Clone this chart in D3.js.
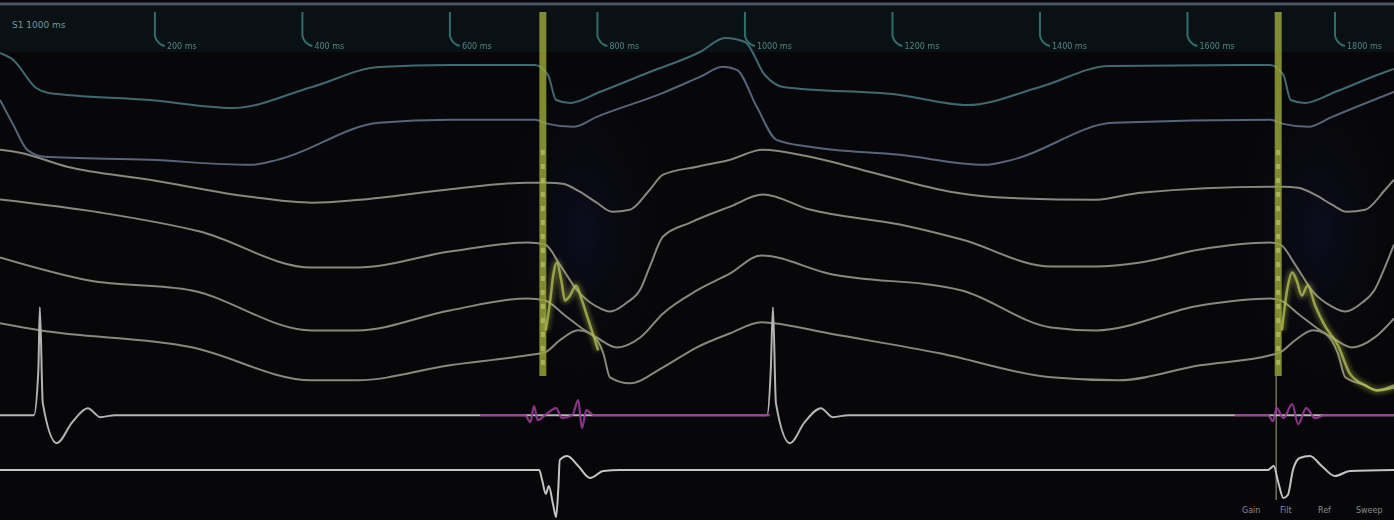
<!DOCTYPE html>
<html>
<head>
<meta charset="utf-8">
<script src="https://cdn.jsdelivr.net/npm/d3@7"></script>
<style>
  html, body { margin: 0; padding: 0; background: #07070a; }
  svg { display: block; }
</style>
</head>
<body>
<svg id="chart" width="1394" height="520"></svg>
<script>
// Recording channels, top to bottom (intracardiac bipoles, then surface leads)
const channels = ["HRA", "HIS d", "HIS p", "CS 9-10", "CS 5-6", "CS 1-2", "II", "V1"];

// Pacing stimulus times (ms)
const stimTimes = [726, 1723];

// Time markers along the top strip (ms)
const markerTimes = [0, 200, 400, 600, 800, 1000, 1200, 1400, 1600, 1800];
const headerText = "S1  1000 ms";
const footerLabels = ["Gain", "Filt", "Ref", "Sweep"];

// Each trace: [time ms, amplitude mV]
const traceA = [[-10,0.24],[8,0.10],[39,-0.46],[56,-0.56],[193,-0.70],[305,-0.86],[413,-0.44],[504,-0.04],[600,0],[715,0],[733,-0.20],[744,-0.70],[763,-0.76],[803,-0.54],[871,-0.14],[939,0.26],[973,0.54],[1000,0.46],[1027,-0.20],[1052,-0.44],[1210,-0.60],[1301,-0.80],[1400,-0.44],[1494,-0.02],[1712,0],[1730,-0.20],[1740,-0.70],[1759,-0.76],[1800,-0.54],[1868,-0.14],[1880,-0.08]];

const traceB = [[-10,0.46],[8,-0.04],[27,-0.54],[51,-0.68],[193,-0.74],[329,-0.84],[366,-0.74],[504,0],[600,0.06],[715,0.06],[733,-0.02],[767,-0.08],[799,0.12],[889,0.60],[939,0.92],[970,1.12],[989,1.06],[1016,0.32],[1043,-0.34],[1088,-0.48],[1210,-0.64],[1325,-0.84],[1362,-0.74],[1500,0],[1712,0.06],[1730,-0.02],[1764,-0.08],[1796,0.12],[1880,0.62]];

const traceC = [[-10,0.62],[17,0.56],[81,0.28],[193,0.02],[329,-0.32],[413,-0.44],[478,-0.38],[595,-0.18],[705,-0.04],[733,-0.04],[753,-0.06],[776,-0.22],[799,-0.44],[820,-0.62],[844,-0.58],[871,-0.18],[889,0.12],[935,0.28],[980,0.42],[1024,0.62],[1088,0.48],[1174,0.16],[1278,-0.22],[1354,-0.34],[1476,-0.38],[1536,-0.24],[1712,-0.12],[1730,-0.12],[1750,-0.14],[1773,-0.28],[1796,-0.48],[1816,-0.62],[1841,-0.58],[1868,-0.18],[1880,0.02]];

const traceD = [[-10,0.78],[126,0.52],[261,0.14],[413,-0.58],[474,-0.58],[600,-0.26],[705,-0.08],[729,-0.12],[749,-0.52],[774,-1.06],[799,-1.36],[817,-1.46],[840,-1.28],[858,-1.02],[871,-0.56],[889,0.04],[926,0.32],[980,0.64],[1024,0.88],[1088,0.58],[1210,0.28],[1294,-0.02],[1415,-0.56],[1476,-0.56],[1536,-0.48],[1617,-0.22],[1712,-0.08],[1726,-0.12],[1746,-0.52],[1770,-1.06],[1796,-1.36],[1814,-1.46],[1837,-1.28],[1854,-1.02],[1868,-0.56],[1880,-0.12]];

const traceE = [[-10,0.78],[111,0.32],[250,0.12],[413,-0.68],[474,-0.68],[600,-0.28],[705,-0.04],[729,-0.08],[756,-0.38],[783,-0.68],[799,-0.82],[826,-1.02],[858,-0.82],[889,-0.34],[935,0.12],[980,0.46],[1022,0.82],[1113,0.46],[1294,0.12],[1415,-0.62],[1476,-0.68],[1617,-0.18],[1712,-0.04],[1726,-0.08],[1753,-0.38],[1780,-0.68],[1796,-0.82],[1823,-1.02],[1854,-0.82],[1880,-0.44]];

const traceF = [[-10,0.62],[44,0.48],[250,0.14],[413,-0.52],[474,-0.52],[600,-0.22],[705,-0.02],[729,0.04],[749,0.28],[774,0.48],[790,0.42],[808,0.02],[817,-0.46],[844,-0.58],[889,-0.26],[935,0.14],[980,0.42],[1022,0.64],[1039,0.62],[1113,0.42],[1264,0.02],[1415,-0.46],[1506,-0.52],[1617,-0.22],[1712,-0.02],[1726,0.04],[1746,0.28],[1770,0.48],[1786,0.42],[1804,0.02],[1814,-0.46],[1841,-0.62],[1857,-0.72],[1880,-0.62]];

// Surface lead II with two conducted beats
const traceG = [[-10,-0.06],[36,-0.06],[42,0.84],[44,2.10],[48,0.18],[67,-0.62],[88,-0.20],[109,0.08],[126,-0.10],[146,-0.06],[1030,-0.06],[1035,0.84],[1038,2.10],[1042,0.18],[1061,-0.62],[1081,-0.20],[1103,0.08],[1119,-0.10],[1140,-0.06],[1880,-0.06]];

// Stimulus channel drawn over lead II around each pacing train
const stimSegments = [
  [[641,-0.06],[702,-0.06],[709,-0.20],[714,0.12],[719,-0.16],[729,-0.06],[744,0.08],[752,-0.12],[766,-0.06],[774,0.24],[779,-0.32],[785,0.04],[795,-0.06],[1034,-0.06]],
  [[1664,-0.06],[1709,-0.06],[1716,-0.18],[1721,0.08],[1730,-0.12],[1742,0.16],[1750,-0.24],[1761,0.08],[1773,-0.12],[1786,-0.06],[1880,-0.06]]
];

// Lead V1
const traceH = [[-10,0],[709,0],[721,0],[725,-0.20],[730,-0.48],[734,-0.32],[740,-0.70],[744,-0.94],[747,-0.36],[749,0.20],[759,0.28],[774,0.08],[790,-0.16],[808,-0.02],[831,0],[1709,0],[1717,0.08],[1723,-0.24],[1730,-0.56],[1736,-0.50],[1743,0],[1752,0.24],[1766,0.28],[1782,0.08],[1800,-0.12],[1820,-0.02],[1880,0]];

// Ablation catheter signal shown on the CS 5-6 row after each stimulus
const ablSegments = [
  [[730,-0.68],[736,-0.08],[740,0.42],[745,0.68],[751,0.32],[756,-0.08],[763,0.02],[771,0.22],[779,-0.08],[787,-0.44],[795,-0.80],[801,-1.08]],
  [[1728,-0.68],[1735,0.12],[1742,0.48],[1748,0.32],[1755,0.02],[1763,0.22],[1773,-0.18],[1786,-0.58],[1804,-0.98],[1820,-1.54],[1841,-1.78],[1857,-1.88],[1880,-1.82]]
];

const W = 1394, H = 520;
const svg = d3.select("#chart");

const x = d3.scaleLinear().domain([-10, 1880]).range([0, W]);
const rowY = d3.scalePoint().domain(channels).range([65, 470]);
const gain = d3.scaleLinear().domain([-1, 1]).range([50, -50]);

const lineFor = ch => d3.line()
  .x(d => x(d[0]))
  .y(d => rowY(ch) + gain(d[1]))
  .curve(d3.curveMonotoneX);

// background
svg.append("rect").attr("width", W).attr("height", H).attr("fill", "#07070a");

// faint navy haze behind each stimulus train
const defs = svg.append("defs");
const haze = defs.append("radialGradient").attr("id", "haze");
haze.append("stop").attr("offset", "0%").attr("stop-color", "#10102c").attr("stop-opacity", 0.6);
haze.append("stop").attr("offset", "100%").attr("stop-color", "#07070a").attr("stop-opacity", 0);
svg.selectAll("ellipse.haze").data(stimTimes).join("ellipse")
  .attr("class", "haze")
  .attr("cx", d => x(d) + 40).attr("cy", 230)
  .attr("rx", 90).attr("ry", 170)
  .attr("fill", "url(#haze)");

const glow = defs.append("filter").attr("id", "glow")
  .attr("x", "-50%").attr("y", "-50%").attr("width", "200%").attr("height", "200%");
glow.append("feGaussianBlur").attr("stdDeviation", 2);

// top strip
svg.append("rect").attr("x", 0).attr("y", 6).attr("width", W).attr("height", 46)
  .attr("fill", "#091114");
svg.append("line").attr("x1", 0).attr("x2", W).attr("y1", 4).attr("y2", 4)
  .attr("stroke", "#4c5566").attr("stroke-width", 3);

svg.append("text").attr("x", 12).attr("y", 28)
  .attr("font-family", "DejaVu Sans, sans-serif").attr("font-size", 9)
  .attr("fill", "#6f9aa0").text(headerText);

const marks = svg.append("g").selectAll("g").data(markerTimes.filter(t => t > 0)).join("g")
  .attr("transform", d => `translate(${x(d)},0)`);
marks.append("path")
  .attr("d", "M0,12 L0,36 Q2,44 10,46")
  .attr("fill", "none").attr("stroke", "#3f8c88").attr("stroke-width", 2).attr("opacity", 0.75);
marks.append("text").attr("x", 12).attr("y", 49)
  .attr("font-family", "DejaVu Sans, sans-serif").attr("font-size", 8)
  .attr("fill", "#5c9a96").attr("opacity", 0.85).text(d => d + " ms");

// intracardiac traces
const traces = [
  {ch: "HRA", data: traceA, color: "#3f6a74"},
  {ch: "HIS d", data: traceB, color: "#56647c"},
  {ch: "HIS p", data: traceC, color: "#8a887a"},
  {ch: "CS 9-10", data: traceD, color: "#8a887a"},
  {ch: "CS 5-6", data: traceE, color: "#8a887a"},
  {ch: "CS 1-2", data: traceF, color: "#8a887a"}
];
svg.append("g").selectAll("path").data(traces).join("path")
  .attr("d", d => lineFor(d.ch)(d.data))
  .attr("fill", "none").attr("stroke", d => d.color)
  .attr("stroke-width", 2).attr("stroke-linejoin", "round");

// pacing stimulus artefacts
const stimG = svg.append("g");
stimG.selectAll("line.band").data(stimTimes).join("line")
  .attr("class", "band")
  .attr("x1", d => x(d)).attr("x2", d => x(d))
  .attr("y1", 12).attr("y2", 376)
  .attr("stroke", "#96a03a").attr("stroke-width", 7).attr("opacity", 0.85);
stimG.selectAll("line.core").data(stimTimes).join("line")
  .attr("class", "core")
  .attr("x1", d => x(d)).attr("x2", d => x(d))
  .attr("y1", 150).attr("y2", 372)
  .attr("stroke", "#d4dc78").attr("stroke-width", 4)
  .attr("stroke-dasharray", "5 9").attr("opacity", 0.5);
stimG.append("line")
  .attr("x1", x(stimTimes[1]) - 2).attr("x2", x(stimTimes[1]) - 2)
  .attr("y1", 376).attr("y2", 500)
  .attr("stroke", "#b8b890").attr("stroke-width", 1.5).attr("opacity", 0.6);

// ablation catheter bursts
const abl = svg.append("g");
abl.selectAll("path.glow").data(ablSegments).join("path")
  .attr("class", "glow")
  .attr("d", d => lineFor("CS 5-6")(d))
  .attr("fill", "none").attr("stroke", "#b7c04c")
  .attr("stroke-width", 7).attr("opacity", 0.35).attr("filter", "url(#glow)");
abl.selectAll("path.trace").data(ablSegments).join("path")
  .attr("class", "trace")
  .attr("d", d => lineFor("CS 5-6")(d))
  .attr("fill", "none").attr("stroke", "#b2ba52")
  .attr("stroke-width", 2.5).attr("opacity", 0.8).attr("stroke-linejoin", "round");

// surface lead II
svg.append("path").attr("d", lineFor("II")(traceG))
  .attr("fill", "none").attr("stroke", "#b4b4b4").attr("stroke-width", 2);
svg.append("g").selectAll("path").data(stimSegments).join("path")
  .attr("d", d => lineFor("II")(d))
  .attr("fill", "none").attr("stroke", "#9a3898").attr("stroke-width", 2.2).attr("opacity", 0.9);

// lead V1
svg.append("path").attr("d", lineFor("V1")(traceH))
  .attr("fill", "none").attr("stroke", "#c4c4c4").attr("stroke-width", 2);

// footer labels
svg.append("g").selectAll("text").data(footerLabels).join("text")
  .attr("x", (d, i) => 1242 + i * 38).attr("y", 513)
  .attr("font-family", "DejaVu Sans, sans-serif").attr("font-size", 8)
  .attr("fill", "#8a8a8a").text(d => d);
</script>
</body>
</html>
